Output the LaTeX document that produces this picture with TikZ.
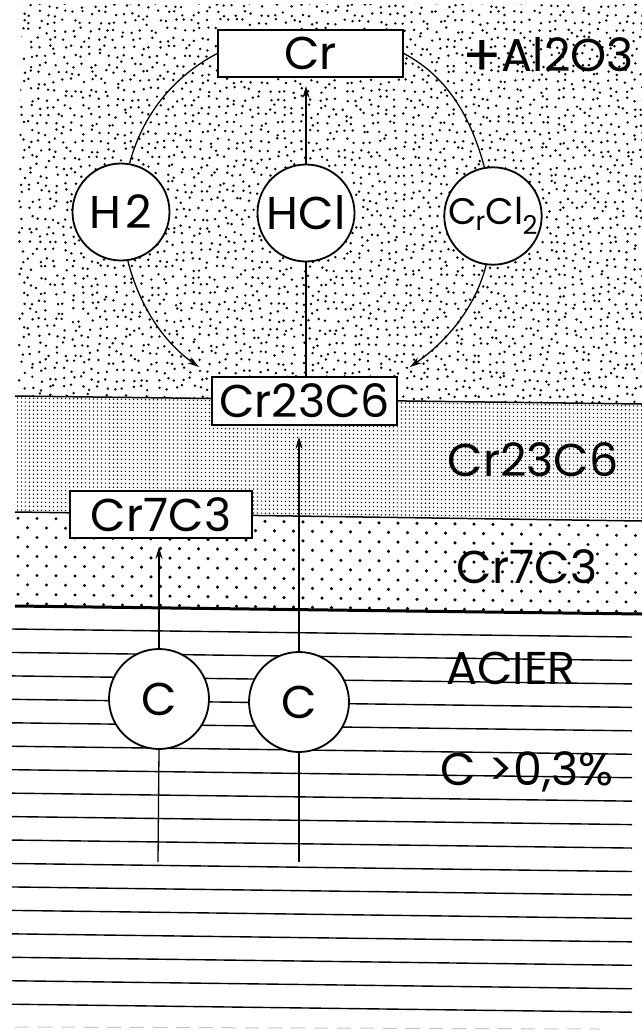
\documentclass[tikz,border=0pt]{standalone}
\usepackage{fontspec}
\setmainfont{Poppins}
\usetikzlibrary{arrows.meta}
\newcommand\lblfont{\fontsize{46}{48}\selectfont}
\begin{document}
\begin{tikzpicture}[x=1pt,y=-1pt,
  boxnode/.style={draw, line width=1.8pt, fill=white, minimum height=47pt, inner sep=0pt, font=\lblfont},
  ball/.style={circle, draw, line width=1.8pt, fill=white, minimum size=97pt, inner sep=0pt, font=\lblfont},
  conn/.style={line width=1.3pt},
  arr/.style={conn, -{Stealth[length=12pt,width=7pt]}},
  lbl/.style={inner sep=0pt, font=\lblfont},
  hline/.style={line width=1.4pt}]
\useasboundingbox (0,0) rectangle (642,1034);
% ---- top layer: random dots
\begin{scope}
  \clip (22,4) -- (642,4) -- (642,404) -- (15,396) -- cycle;
  \pgfmathsetseed{12345}
  \foreach \j in {0,...,47}{
    \fill foreach \i in {0,...,74}{ ({22+8.5*\i+3*rand},{5+8.5*\j+3*rand}) circle (1.35pt) };
  }
\end{scope}
% ---- Cr23C6 layer: fine grid of dots
\begin{scope}
  \clip (17,396) -- (642,404) -- (642,521) -- (15,512) -- cycle;
  \foreach \k in {0,...,32} \draw[line width=1.2pt, dash pattern=on 1.2pt off 2.8pt] (17,{398+4*\k}) -- ++(625,8);
\end{scope}
% ---- Cr7C3 layer: sparse staggered dots
\begin{scope}
  \clip (15,512) -- (642,521) -- (642,614) -- (15,606) -- cycle;
  \foreach \j in {0,...,10}{
    \fill foreach \i in {0,...,34}{ ({18+19*\i+9.5*mod(\j,2)},{518+9.5*\j+0.0128*(18+19*\i)}) circle (1.7pt) };
  }
\end{scope}
% ---- boundaries
\draw[line width=1.5pt] (15,396) -- (642,404);
\draw[line width=1.5pt] (15,512) -- (642,521);
\draw[line width=3pt] (15,606) -- (642,614);
% ---- steel: horizontal lines
\foreach \k in {0,...,16} \draw[hline] (12,{629+23.45*\k}) -- (632,{637+23.45*\k});
\draw[gray!45, line width=1pt, dash pattern=on 14pt off 9pt] (15,1027) -- (600,1029);
% ---- nodes
\node[boxnode, minimum width=185pt] (Cr) at (310.5,53.5) {Cr};
\node[ball] (H2) at (121,212) {H\kern4pt 2};
\node[ball] (HCl) at (306,213) {HCl};
\node[ball, font=\fontsize{37}{40}\selectfont] (CrCl) at (493,216) {C\kern-1pt\textsubscript{r}Cl\kern-1pt\textsubscript{2}};
\node[boxnode, minimum width=185pt, minimum height=48pt] (Cr23) at (304.5,401) {Cr23C6};
\node[boxnode, minimum width=182pt] (Cr7) at (161,514.5) {Cr7C3};
\node[ball, minimum size=100pt] (C1) at (159,699) {C};
\node[ball, minimum size=100pt] (C2) at (299,702) {C};
\coordinate (c1b) at (158,862);
\coordinate (c2b) at (299,862);
% ---- connectors
\draw[conn] (Cr.west) .. controls +(-45,24) and +(13,-48) .. (H2.80);
\draw[arr] (H2.-82) .. controls +(11,43) and +(-37,-26) .. ([shift={(-12,-9)}]Cr23.north west);
\draw[conn] (Cr.east) .. controls +(45,24) and +(-13,-48) .. (CrCl.100);
\draw[arr] (CrCl.-98) .. controls +(-11,43) and +(37,-26) .. ([shift={(12,-9)}]Cr23.north east);
\draw[arr, shorten >=8pt] (HCl.north) -- (HCl.north |- Cr.south);
\draw[conn] (HCl.south) -- (HCl.south |- Cr23.north);
\draw[arr, shorten >=8pt] (C1.north) -- (C1.north |- Cr7.south);
\draw[arr, shorten >=11pt] (C2.north) -- (C2.north |- Cr23.south);
\draw[conn] (c1b) -- (C1.south);
\draw[conn] (c2b) -- (C2.south);
% ---- labels
\node[lbl] (al) at (548,57) {\raisebox{-5pt}{\fontsize{58}{58}\selectfont +}Al2O3};
\node[lbl] (l23) at (533,460) {Cr23C6};
\node[lbl] (l7) at (527,567) {Cr7C3};
\node[lbl] (acier) at (511,668) {ACIER};
\node[lbl] (pct) at (527,772) {C >0,3\%};
\end{tikzpicture}
\end{document}
